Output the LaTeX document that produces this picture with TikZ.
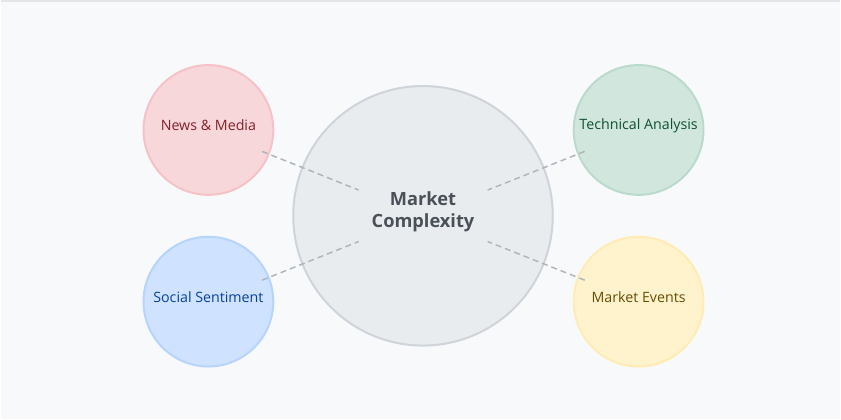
\documentclass[tikz,border=0pt]{standalone}
\usepackage{fontspec}
\setmainfont{Open Sans}
\usetikzlibrary{calc}
\definecolor{bg}{HTML}{F8F9FA}
\definecolor{topline}{HTML}{E3E5E8}
\definecolor{cfill}{HTML}{E9ECEF}
\definecolor{cdraw}{HTML}{CED4DA}
\definecolor{ctext}{HTML}{495057}
\definecolor{rfill}{HTML}{F8D7DA}
\definecolor{rdraw}{HTML}{F5C2C7}
\definecolor{rtext}{HTML}{842029}
\definecolor{bfill}{HTML}{CFE2FF}
\definecolor{bdraw}{HTML}{B6D4FE}
\definecolor{btext}{HTML}{084298}
\definecolor{gfill}{HTML}{D1E7DD}
\definecolor{gdraw}{HTML}{BADBCC}
\definecolor{gtext}{HTML}{0F5132}
\definecolor{yfill}{HTML}{FFF3CD}
\definecolor{ydraw}{HTML}{FFECB5}
\definecolor{ytext}{HTML}{664D03}
\definecolor{dash}{HTML}{ADB5BD}
\tikzset{
  bubble/.style={circle, inner sep=0pt, line width=1.5pt, minimum size=97.5pt},
  bigbubble/.style={circle, inner sep=0pt, line width=1.5pt, minimum size=195pt, fill=cfill, draw=cdraw},
  lbl/.style={font=\fontsize{10.7pt}{12pt}\selectfont, inner sep=0pt},
  link/.style={draw=dash, line width=1.1pt, dash pattern=on 4.5pt off 3pt}
}
\begin{document}
\begin{tikzpicture}[x=0.75pt,y=-0.75pt]
\fill[bg] (0,0) rectangle (841,420);
\draw[topline, line width=1.2pt] (0,0.6) -- (841,0.6);
\useasboundingbox (0,0) rectangle (841,420);
\node[bigbubble] (center) at (423,216) {};
\node[bubble, fill=rfill, draw=rdraw] (news) at (208,130) {};
\node[bubble, fill=bfill, draw=bdraw] (social) at (208,302) {};
\node[bubble, fill=gfill, draw=gdraw] (tech) at (639,130) {};
\node[bubble, fill=yfill, draw=ydraw] (events) at (639,302) {};
\draw[link] ($(news)!0.25!(center)$) -- ($(news)!0.70!(center)$);
\draw[link] ($(social)!0.25!(center)$) -- ($(social)!0.70!(center)$);
\draw[link] ($(tech)!0.25!(center)$) -- ($(tech)!0.70!(center)$);
\draw[link] ($(events)!0.25!(center)$) -- ($(events)!0.70!(center)$);
\node[lbl, text=rtext] (tnews) at (208,125.5) {News \& Media};
\node[lbl, text=btext] (tsocial) at (208,297.5) {Social Sentiment};
\node[lbl, text=gtext] (ttech) at (639,125.5) {Technical Analysis};
\node[lbl, text=ytext] (tevents) at (639,297.5) {Market Events};
\node[inner sep=0pt, text=ctext, align=center, font=\fontsize{13.7pt}{16.5pt}\selectfont\bfseries] (tcenter) at (423,211.5) {Market\\Complexity};
\end{tikzpicture}
\end{document}
